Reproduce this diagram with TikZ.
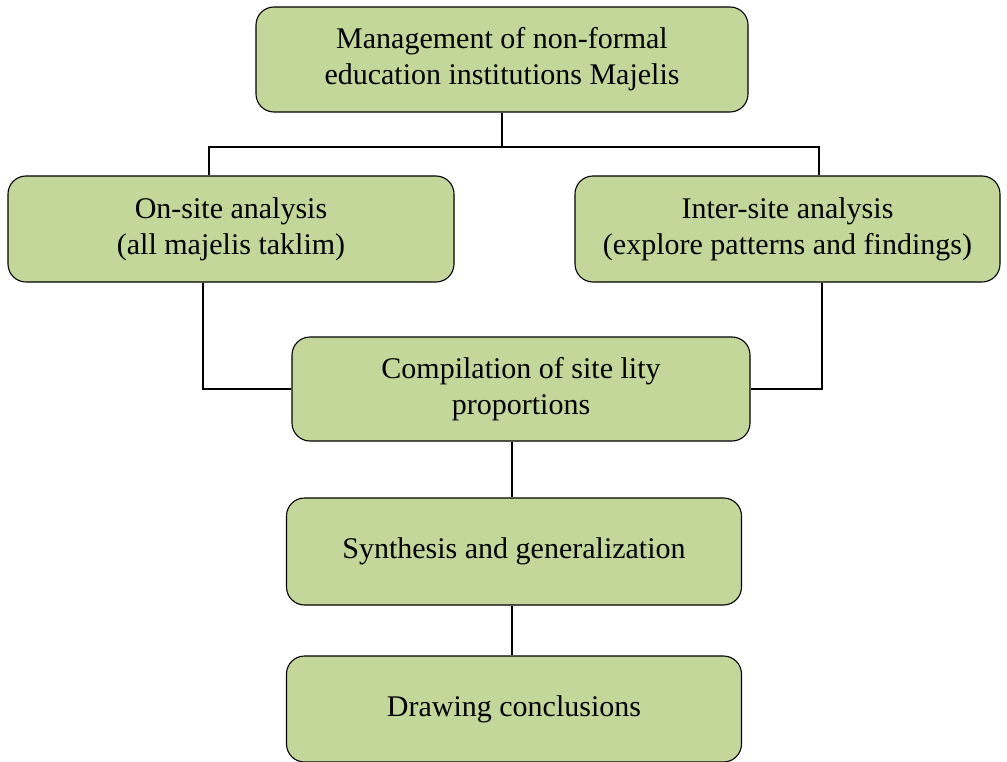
\documentclass[tikz,border=0pt]{standalone}
\usepackage{fontspec}
\setmainfont{Liberation Serif}
\usetikzlibrary{positioning}
\definecolor{boxgreen}{HTML}{C4D79B}
\tikzset{
    stage/.style={
		draw=black, line width=1.1pt, fill=boxgreen, rounded corners=18pt,
		align=center, inner sep=0pt,
		font=\fontsize{30}{36}\selectfont
	}
}
\tikzset{
    link/.style={draw=black, line width=1.3pt}
}
\begin{document}
\begin{tikzpicture}[x=1pt,y=-1pt]
			\useasboundingbox (0,0) rectangle (1007,762);
			\node[stage, minimum width=492pt, minimum height=105pt] (manage) at (502,59.5) {Management of non-formal\\education institutions Majelis};
			\node[stage, minimum width=446pt, minimum height=106pt] (onsite) at (231,229) {On-site analysis\\(all majelis taklim)};
			\node[stage, minimum width=425pt, minimum height=106pt] (intersite) at (787.5,229) {Inter-site analysis\\(explore patterns and findings)};
			\node[stage, minimum width=458pt, minimum height=104pt] (compile) at (521,389) {Compilation of site lity\\proportions};
			\node[stage, minimum width=455pt, minimum height=107pt] (synth) at (514,551.5) {Synthesis and generalization};
			\node[stage, minimum width=455pt, minimum height=106pt] (concl) at (514,709) {Drawing conclusions};
			\coordinate (split) at (502,147);
			\coordinate (lsplit) at (209,147);
			\coordinate (rsplit) at (819,147);
			\coordinate (ldrop) at (203,386);
			\coordinate (rdrop) at (822,386);
			\coordinate (cdrop) at (512,470);
			%\draw[link] (manage.south) |- (onsite.north);
			\draw[link] (manage.south -| split) -- (split);
			\draw[link] (onsite.north -| lsplit) -- (lsplit) -- (rsplit) -- (intersite.north -| rsplit);
			\draw[link] (onsite.south -| ldrop) |- (compile.west);
			\draw[link] (intersite.south -| rdrop) |- (compile.east);
			\draw[link] (compile.south -| cdrop) -- (synth.north -| cdrop);
			\draw[link] (synth.south -| cdrop) -- (concl.north -| cdrop);
		\end{tikzpicture}
\end{document}
